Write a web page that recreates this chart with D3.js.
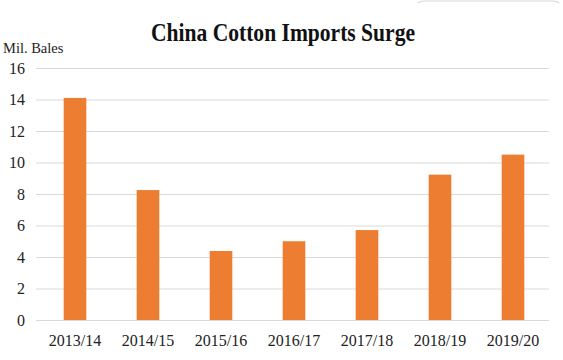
<!DOCTYPE html>
<html><head><meta charset="utf-8">
<script src="https://cdn.jsdelivr.net/npm/d3@7"></script>
<style>html,body{margin:0;padding:0;background:#fff;}svg{display:block;}</style>
</head><body>
<svg id="c" width="563" height="360"></svg>
<script>
const categories = ["2013/14","2014/15","2015/16","2016/17","2017/18","2018/19","2019/20"];
const imports = [14.1, 8.25, 4.38, 5.0, 5.71, 9.23, 10.5];
const yTicks = [0, 2, 4, 6, 8, 10, 12, 14, 16];
const title = "China Cotton Imports Surge";
const unitLabel = "Mil. Bales";

const svg = d3.select("#c");
const font = "'Liberation Serif','Times New Roman',serif";

// faint frame remnant at top right
svg.append("path").attr("d","M418,3 Q420,1 424,1 L553,1 Q557,1 559,3")
  .attr("fill","none").attr("stroke","#d8d8d8").attr("stroke-width",1.2);

const x = d3.scaleBand().domain(categories).range([38.5, 549.5])
  .paddingInner(0.69).paddingOuter(0.345);
const y = d3.scaleLinear().domain([0, 16]).range([320, 68]);

// gridlines
const yAxis = d3.axisLeft(y).tickValues(yTicks).tickSize(-513).tickPadding(11).tickFormat(d3.format("d"));
const gy = svg.append("g").attr("transform","translate(36,0)").call(yAxis);
gy.select(".domain").remove();
gy.selectAll(".tick line").attr("stroke","#d9d9d9").attr("stroke-width",1.2);
gy.selectAll(".tick text").attr("font-family",font).attr("font-size",16).attr("fill","#222")
  .attr("dy","0.34em");

// bars
svg.append("g").selectAll("rect").data(categories).join("rect")
  .attr("x", d => x(d)).attr("width", x.bandwidth())
  .attr("y", (d,i) => y(imports[i])).attr("height", (d,i) => y(0) - y(imports[i]))
  .attr("fill","#ED7D31");

// x axis labels
const xAxis = d3.axisBottom(x).tickSize(0).tickPadding(15);
const gx = svg.append("g").attr("transform","translate(0,320)").call(xAxis);
gx.select(".domain").remove();
gx.selectAll(".tick text").attr("font-family",font).attr("font-size",16).attr("fill","#222");

// title
svg.append("text").attr("x",151).attr("y",40.5).text(title)
  .attr("font-family",font).attr("font-weight","bold").attr("font-size",26)
  .attr("textLength",264).attr("lengthAdjust","spacingAndGlyphs").attr("fill","#111");

// unit label
svg.append("text").attr("x",3).attr("y",53).text(unitLabel)
  .attr("font-family",font).attr("font-size",14.5).attr("fill","#222");
</script>
</body></html>
